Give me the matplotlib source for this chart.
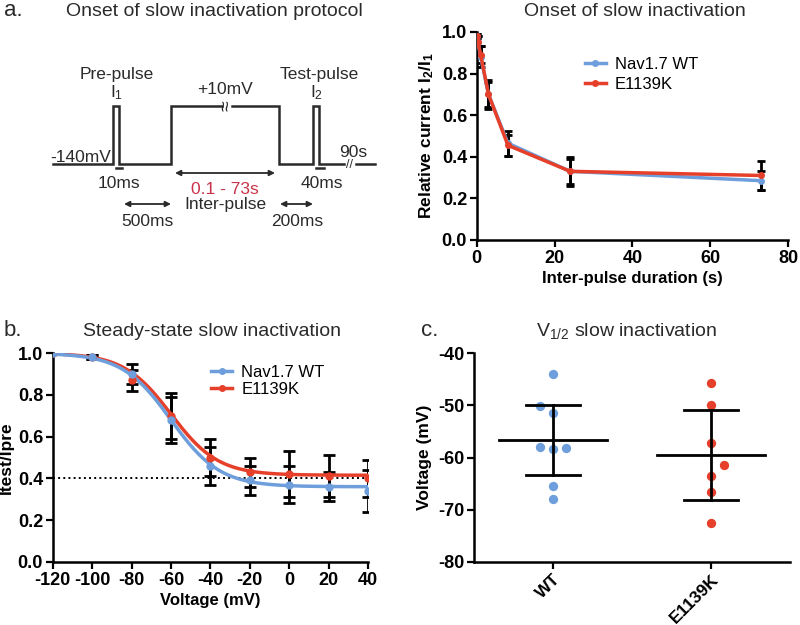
import numpy as np
import matplotlib
matplotlib.use('Agg')
import matplotlib.pyplot as plt

plt.rcParams['font.family'] = ['Liberation Sans', 'DejaVu Sans']
plt.rcParams['mathtext.default'] = 'regular'
plt.rcParams['axes.unicode_minus'] = False

blue = '#6e9fdc'
red = '#e63f2a'
ink = '#2a2a2a'

# onset of slow inactivation (panel a, right)
onset_t = [0.1, 0.3, 1, 3, 8, 24, 73]
onset_wt = [0.98, 0.95, 0.88, 0.70, 0.465, 0.33, 0.285]
onset_wt_err = [0.01, 0.03, 0.05, 0.07, 0.06, 0.07, 0.045]
onset_mut = [0.98, 0.95, 0.89, 0.70, 0.455, 0.33, 0.31]
onset_mut_err = [0.01, 0.03, 0.04, 0.06, 0.05, 0.06, 0.07]

# steady-state slow inactivation (panel b)
ss_v = [-120, -100, -80, -60, -40, -20, 0, 20, 40]
ss_wt = [1.0, 0.98, 0.90, 0.68, 0.46, 0.39, 0.37, 0.36, 0.34]
ss_wt_err = [0.005, 0.01, 0.05, 0.11, 0.09, 0.07, 0.09, 0.07, 0.10]
ss_mut = [1.0, 0.98, 0.87, 0.70, 0.50, 0.43, 0.42, 0.41, 0.40]
ss_mut_err = [0.005, 0.01, 0.05, 0.11, 0.09, 0.07, 0.11, 0.10, 0.09]
# Boltzmann fit parameters: bottom, V1/2, slope
fit_wt = (0.36, -60.0, 12.4)
fit_mut = (0.415, -60.0, 12.0)

# V1/2 per cell (panel c)
groups = ['WT', 'E1139K']
vhalf_wt = [-44.0, -50.2, -51.4, -58.0, -58.4, -58.1, -65.5, -68.0]
vhalf_mut = [-45.7, -50.0, -57.3, -61.4, -63.5, -66.6, -72.5]
jit_wt = [0, -1, 0, -1, 0, 1, 0, 0]
jit_mut = [0, 0, 0, 1, 0, 0, 0]
vhalf_mean = [-56.7, -59.5]
vhalf_lo = [-63.4, -68.1]
vhalf_hi = [-50.0, -50.9]


def boltz(v, bot, vh, k):
    return bot + (1 - bot) / (1 + np.exp((v - vh) / k))


def style(ax):
    ax.set_facecolor('none')
    for s in ['top', 'right']:
        ax.spines[s].set_visible(False)
    for s in ['left', 'bottom']:
        ax.spines[s].set_linewidth(1.8)
    ax.tick_params(direction='out', length=5, width=1.6, labelsize=13, pad=2)
    for lab in ax.get_xticklabels() + ax.get_yticklabels():
        lab.set_fontweight('bold')


fig = plt.figure(figsize=(8, 6.25), dpi=100)

# background axes in pixel coordinates for the protocol sketch and labels
bg = fig.add_axes([0, 0, 1, 1])
bg.set_xlim(0, 800)
bg.set_ylim(625, 0)
bg.axis('off')

bg.text(4, 11, 'a.', fontsize=16, va='center', color=ink)
bg.text(4, 331, 'b.', fontsize=16, va='center', color=ink)
bg.text(421, 331, 'c.', fontsize=16, va='center', color=ink)
bg.text(214, 11, 'Onset of slow inactivation protocol', fontsize=14, ha='center', va='center', color=ink)
bg.text(635, 11, 'Onset of slow inactivation', fontsize=14, ha='center', va='center', color=ink)
bg.text(212, 331, 'Steady-state slow inactivation', fontsize=14, ha='center', va='center', color=ink)
bg.text(626, 331, 'V$_{1/2}$ slow inactivation', fontsize=14, ha='center', va='center', color=ink)

# protocol trace
lo, hi = 164, 106
px = [53, 113, 113, 119, 119, 171, 171, 222]
py = [lo, lo, hi, hi, lo, lo, hi, hi]
bg.plot(px, py, color=ink, lw=1.8, solid_joinstyle='miter')
px2 = [232, 279, 279, 313, 313, 319, 319, 344]
py2 = [hi, hi, lo, lo, hi, hi, lo, lo]
bg.plot(px2, py2, color=ink, lw=1.8, solid_joinstyle='miter')
bg.plot([356, 375], [lo, lo], color=ink, lw=1.8)
bg.text(227, 106, '≈', rotation=90, fontsize=14, ha='center', va='center', color=ink)
bg.text(350, 165, '//', fontsize=9, ha='center', va='center', color=ink)
bg.plot([116, 122], [168, 168], color=ink, lw=1.8)
bg.plot([316, 324], [168, 168], color=ink, lw=1.8)

tk = dict(fontsize=12.5, color=ink)
bg.text(111, 162, '-140mV', ha='right', va='baseline', **tk)
bg.text(117, 75, 'Pre-pulse', ha='center', va='center', **tk)
bg.text(117, 93, 'I$_1$', ha='center', va='center', **tk)
bg.text(225, 90, '+10mV', ha='center', va='center', **tk)
bg.text(319, 75, 'Test-pulse', ha='center', va='center', **tk)
bg.text(317, 93, 'I$_2$', ha='center', va='center', **tk)
bg.text(353, 157, '90s', ha='center', va='baseline', **tk)
bg.text(119, 183, '10ms', ha='center', va='center', **tk)
bg.text(322, 183, '40ms', ha='center', va='center', **tk)
bg.text(225, 190, '0.1 - 73s', ha='center', va='center', fontsize=12.5, color='#c8334a')
bg.text(225, 205, 'Inter-pulse', ha='center', va='center', **tk)
bg.text(147, 222, '500ms', ha='center', va='center', **tk)
bg.text(297, 222, '200ms', ha='center', va='center', **tk)
arr = dict(arrowstyle='<|-|>', color=ink, lw=1.3, mutation_scale=8, shrinkA=0, shrinkB=0)
bg.annotate('', xy=(124, 204), xytext=(171, 204), arrowprops=arr)
bg.annotate('', xy=(175, 173), xytext=(275, 173), arrowprops=arr)
bg.annotate('', xy=(280, 204), xytext=(313, 204), arrowprops=arr)

# panel a right: onset
ax1 = fig.add_axes([0.596, 0.616, 0.389, 0.333])
ax1.errorbar(onset_t, onset_wt, yerr=onset_wt_err, fmt='none', ecolor='black', elinewidth=2, capsize=3, capthick=2, zorder=2)
ax1.errorbar(onset_t, onset_mut, yerr=onset_mut_err, fmt='none', ecolor='black', elinewidth=2, capsize=3, capthick=2, zorder=2)
ax1.plot(onset_t, onset_wt, '-o', color=blue, lw=2.5, ms=4, label='Nav1.7 WT', zorder=3)
ax1.plot(onset_t, onset_mut, '-o', color=red, lw=2.5, ms=4, label='E1139K', zorder=4)
ax1.set_xlim(0, 80)
ax1.set_ylim(0, 1.0)
ax1.set_xticks([0, 20, 40, 60, 80])
ax1.set_yticks(np.arange(0, 1.01, 0.2))
ax1.yaxis.set_major_formatter(matplotlib.ticker.FormatStrFormatter('%.1f'))
ax1.set_xlabel('Inter-pulse duration (s)', fontsize=12, fontweight='bold', labelpad=3)
ax1.set_ylabel('Relative current I$_2$/I$_1$', fontsize=12.5, fontweight='bold', labelpad=4)
style(ax1)
ax1.legend(loc='upper left', bbox_to_anchor=(0.32, 0.92), frameon=False, fontsize=12,
           handlelength=1.25, handletextpad=0.55, labelspacing=0.32, borderpad=0)

# panel b: steady-state
ax2 = fig.add_axes([0.066, 0.101, 0.394, 0.334])
vv = np.linspace(-120, 40, 300)
ax2.axhline(0.4, color='black', ls=':', lw=1.4, zorder=1)
ax2.errorbar(ss_v, ss_wt, yerr=ss_wt_err, fmt='none', ecolor='black', elinewidth=2, capsize=4, capthick=2, zorder=2)
ax2.errorbar(ss_v, ss_mut, yerr=ss_mut_err, fmt='none', ecolor='black', elinewidth=2, capsize=4, capthick=2, zorder=2)
ax2.plot(vv, boltz(vv, *fit_mut), color=red, lw=2.5, zorder=3)
ax2.plot(vv, boltz(vv, *fit_wt), color=blue, lw=2.5, zorder=4)
ax2.plot(ss_v, ss_mut, 'o', color=red, ms=5, zorder=5)
ax2.plot(ss_v, ss_wt, 'o', color=blue, ms=5, zorder=6)
ax2.plot([], [], '-o', color=blue, lw=2.5, ms=4, label='Nav1.7 WT')
ax2.plot([], [], '-o', color=red, lw=2.5, ms=4, label='E1139K')
ax2.set_xlim(-120, 40)
ax2.set_ylim(0, 1.0)
ax2.set_xticks(ss_v)
ax2.set_yticks(np.arange(0, 1.01, 0.2))
ax2.yaxis.set_major_formatter(matplotlib.ticker.FormatStrFormatter('%.1f'))
ax2.set_xlabel('Voltage (mV)', fontsize=12, fontweight='bold', labelpad=3)
ax2.set_ylabel('Itest/Ipre', fontsize=12.5, fontweight='bold', labelpad=3)
style(ax2)
ax2.legend(loc='upper left', bbox_to_anchor=(0.476, 0.985), frameon=False, fontsize=12,
           handlelength=1.25, handletextpad=0.55, labelspacing=0.15, borderpad=0)

# panel c: V1/2 scatter
ax3 = fig.add_axes([0.5925, 0.101, 0.395, 0.334])
dx = 0.085
ax3.scatter(np.array(jit_wt) * dx, vhalf_wt, s=45, color=blue, zorder=2, linewidths=0)
ax3.scatter(1 + np.array(jit_mut) * dx, vhalf_mut, s=45, color=red, zorder=2, linewidths=0)
for i in range(2):
    ax3.plot([i - 0.34, i + 0.34], [vhalf_mean[i]] * 2, color='black', lw=2, zorder=3)
    ax3.plot([i, i], [vhalf_lo[i], vhalf_hi[i]], color='black', lw=2, zorder=3)
    ax3.plot([i - 0.17, i + 0.17], [vhalf_lo[i]] * 2, color='black', lw=2, zorder=3)
    ax3.plot([i - 0.17, i + 0.17], [vhalf_hi[i]] * 2, color='black', lw=2, zorder=3)
ax3.set_xlim(-0.5, 1.5)
ax3.set_ylim(-80, -40)
ax3.set_xticks([0, 1])
ax3.set_xticklabels(groups, rotation=45, ha='right', rotation_mode='anchor')
ax3.set_yticks([-80, -70, -60, -50, -40])
ax3.set_ylabel('Voltage (mV)', fontsize=12.5, fontweight='bold', labelpad=4)
style(ax3)
for lab in ax3.get_xticklabels():
    lab.set_fontsize(12.5)

fig.savefig('out.png', dpi=100)
